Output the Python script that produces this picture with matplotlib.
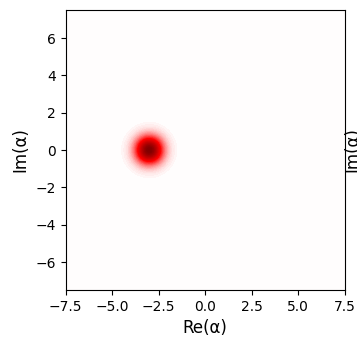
import numpy as np
import matplotlib
matplotlib.use("Agg")
import matplotlib.pyplot as plt

# coherent state parameters
alpha_re = -3.0
alpha_im = 0.0
grid_lim = 7.5
grid_n = 200

x_ticks = [-7.5, -5.0, -2.5, 0.0, 2.5, 5.0, 7.5]
y_ticks = [-6, -4, -2, 0, 2, 4, 6]

xvec = np.linspace(-grid_lim, grid_lim, grid_n)
X, Y = np.meshgrid(xvec, xvec)
# Wigner function of a coherent state
W = 2 / np.pi * np.exp(-2 * ((X - alpha_re) ** 2 + (Y - alpha_im) ** 2))
wmax = W.max()

fig = plt.figure(figsize=(3.57, 3.39), dpi=100)
ax = fig.add_axes([65.5 / 357, 1 - 290 / 339, 279 / 357, 280 / 339])
ax.contourf(X, Y, W, 100, cmap="seismic", vmin=-wmax, vmax=wmax)
ax.set_xlim(-grid_lim, grid_lim)
ax.set_ylim(-grid_lim, grid_lim)
ax.set_xticks(x_ticks)
ax.set_yticks(y_ticks)
ax.set_xlabel("Re(α)", fontsize=12)
ax.set_ylabel("Im(α)", fontsize=12)

# label of the neighbouring panel, cut at the figure edge
fig.text(352 / 357, 1 - 150 / 339, "Im(α)", rotation=90, fontsize=12,
         ha="center", va="center")

fig.savefig("out.png", dpi=100)
